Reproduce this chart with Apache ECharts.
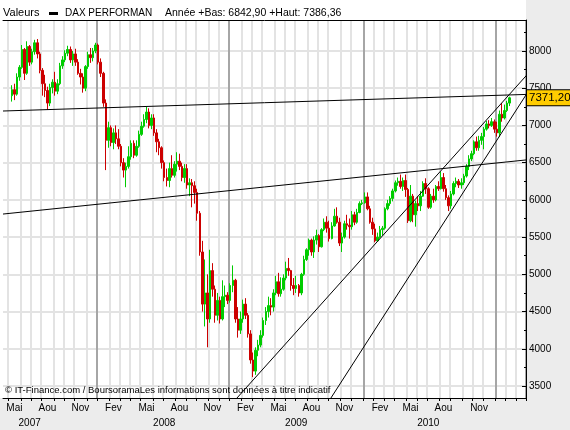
<!DOCTYPE html>
<html>
<head>
<meta charset="utf-8">
<title>DAX PERFORMAN</title>
<script src="https://cdn.jsdelivr.net/npm/echarts@6/dist/echarts.min.js"></script>
<style>
    html, body { margin: 0; padding: 0; background: #ececec; }
    #chart { width: 570px; height: 430px; }
</style>
</head>
<body>
<div id="chart"></div>
<script type="text/javascript">
// axe : une categorie par semaine (lundi), premiere bougie a la semaine 3
var weekCount = 206;
var firstCandle = 3;
var monthNames = ['Jan','Fev','Mar','Avr','Mai','Jun','Jul','Aou','Sep','Oct','Nov','Dec'];
var labelMonths = [1, 4, 7, 10];
var lastLabelYear = 2010;

// bougies hebdo, mai 2007 -> fevrier 2011
var opens = [
    7400,7480,7420,7650,7780,8020,7700,8060,7850,7990,8110,7960,7740,7560,7470,7300,7510,7580,7460,7560,7800,7880,7970,8020,7880,7960,7850,7700,7650,7500,7790,7950,7910,8000,8080,
    7850,7700,7300,6800,6970,6770,6900,6820,6720,6500,6400,6450,6580,6760,6600,6720,6880,6990,7080,7180,7000,7100,6900,6780,6700,6500,6300,6260,6420,6330,6480,6520,6450,6300,6420,6200,6230,6190,6100,5820,5300,4600,4750,4400,5050,4800,4450,4650,4400,4700,4720,4650,
    4850,4920,4400,4250,4400,4600,4450,4200,3850,3700,3980,4050,4180,4380,4500,4580,4560,4750,4900,4740,4800,4950,5080,5050,4850,4810,4850,4750,5000,5200,5330,5460,5300,5460,5520,5370,5600,5700,5620,5480,5650,5780,5700,5420,5500,5680,5660,5640,5800,5700,5830,5950,
    5960,6040,5880,5700,5610,5450,5500,5600,5620,5880,5950,6020,6120,6230,6250,6180,6260,6140,5720,6050,5800,5950,5920,6050,6220,6150,5900,6050,6000,6180,6150,6300,6150,6030,5920,6080,6220,6250,6200,6230,6320,6450,6550,6620,6780,6700,6800,6850,6950,7020,7000,7050,
    6950,6900,7150,7100,7200,7300
];
var closes = [
    7480,7420,7650,7780,8020,7700,8060,7850,7990,8110,7960,7740,7560,7470,7300,7510,7580,7460,7560,7800,7880,7970,8020,7880,7960,7850,7700,7650,7500,7790,7950,7910,8000,8080,7850,
    7700,7300,6800,6970,6770,6900,6820,6720,6500,6400,6450,6580,6760,6600,6720,6880,6990,7080,7180,7000,7100,6900,6780,6700,6500,6300,6260,6420,6330,6480,6520,6450,6300,6420,6200,6230,6190,6100,5820,5300,4600,4750,4400,5050,4800,4450,4650,4400,4700,4720,4650,4850,
    4920,4400,4250,4400,4600,4450,4200,3850,3700,3980,4050,4180,4380,4500,4580,4560,4750,4900,4740,4800,4950,5080,5050,4850,4810,4850,4750,5000,5200,5330,5460,5300,5460,5520,5370,5600,5700,5620,5480,5650,5780,5700,5420,5500,5680,5660,5640,5800,5700,5830,5950,5960,
    6040,5880,5700,5610,5450,5500,5600,5620,5880,5950,6020,6120,6230,6250,6180,6260,6140,5720,6050,5800,5950,5920,6050,6220,6150,5900,6050,6000,6180,6150,6300,6150,6030,5920,6080,6220,6250,6200,6230,6320,6450,6550,6620,6780,6700,6800,6850,6950,7020,7000,7050,6950,
    6900,7150,7100,7200,7300,7371.2
];
var lows = [
    7320,7340,7400,7600,7760,7610,7680,7800,7820,7950,7900,7700,7400,7380,7210,7260,7430,7400,7420,7540,7760,7850,7930,7840,7800,7800,7680,7550,7440,7460,7760,7840,7860,7970,7820,
    7650,7250,6400,6700,6720,6680,6750,6680,6450,6300,6170,6420,6540,6560,6580,6700,6860,6970,7030,6960,6950,6860,6640,6600,6420,6250,6180,6170,6300,6300,6380,6400,6250,6230,6150,6050,5900,5950,5720,5250,4500,4300,4020,4350,4700,4350,4380,4340,4380,4560,4600,4620,
    4760,4350,4150,4200,4350,4400,4150,3800,3620,3650,3900,4020,4150,4320,4420,4450,4500,4720,4700,4700,4780,4920,4980,4780,4720,4750,4700,4720,4980,5180,5250,5250,5220,5400,5300,5360,5580,5560,5440,5470,5640,5680,5380,5300,5480,5600,5480,5600,5660,5680,5820,5930,
    5950,5860,5680,5530,5430,5440,5480,5520,5600,5860,5920,5980,6100,6190,6150,6120,6040,5690,5700,5700,5640,5850,5850,6040,6080,5880,5880,5960,5980,6120,6140,6110,6000,5850,5880,6060,6170,6160,6150,6200,6300,6400,6520,6600,6660,6660,6740,6680,6930,6960,6980,6900,
    6850,6842.9,7050,7080,7180,7260
];
var highs = [
    7540,7560,7700,7810,8080,8040,8130,8080,8030,8150,8160,7990,7770,7680,7520,7560,7620,7720,7620,7840,7930,8010,8070,8060,8000,8030,7890,7760,7700,7810,7990,8040,8040,8110,8100,
    7900,7720,7350,7050,7000,6960,7000,6950,6750,6560,6500,6720,6800,6800,6800,6930,7050,7150,7250,7230,7150,7150,6950,6820,6720,6530,6420,6500,6600,6520,6640,6620,6500,6480,6480,6290,6280,6250,6150,5850,5450,5200,5000,5330,5150,4850,4750,4700,4920,4850,4760,4880,
    5120,4940,4560,4500,4660,4680,4480,4250,3950,4020,4120,4250,4420,4560,4700,4680,4800,4980,5020,4960,5000,5170,5220,5060,4950,4980,4870,5020,5250,5350,5480,5480,5510,5600,5540,5620,5750,5780,5720,5700,5880,5900,5760,5560,5720,5800,5750,5850,5840,5880,5980,6000,
    6100,6100,5920,5760,5680,5560,5650,5650,5900,6000,6050,6150,6260,6300,6340,6300,6340,6160,6200,6080,5990,6050,6120,6250,6290,6170,6080,6150,6200,6250,6380,6360,6200,6060,6120,6250,6300,6280,6290,6350,6480,6600,6660,6800,6850,6860,6900,6980,7060,7070,7100,7080,
    7050,7200,7300,7280,7330,7386.36
];

var lastPrice = 7371.2;
var lastPriceText = '7371,20';
var headerParts = ['Valeurs', 'DAX PERFORMAN', 'Année +Bas: 6842,90 +Haut: 7386,36'];
var footerText = '© IT-Finance.com / BoursoramaLes informations sont données à titre indicatif';

// droites tracees a la main : [semaine, valeur], un peu au-dela du cadre (coupees au bord)
var trendTop = [[-1, 7193], [206, 7417]];
var trendFlat = [[-1, 5808], [206, 6538]];
var trendLow = [[90, 3276], [206, 7684]];
var trendSteep = [[128, 3304], [206, 7436]];

var fontFamily = '"Liberation Sans", Arial, sans-serif';

var weeks = [];
for (var k = 0; k < weekCount; k++) {
    weeks.push(new Date(Date.UTC(2007, 3, 16 + k * 7)).toISOString().slice(0, 10));
}

var candles = weeks.map(function (w, i) {
    var n = i - firstCandle;
    if (n < 0 || n >= closes.length) {
        return ['-', '-', '-', '-'];
    }
    return [opens[n], closes[n], lows[n], highs[n]];
});

function dayOf(value, shift) {
    return new Date(Date.parse(value + 'T00:00:00Z') + shift * 864e5);
}
// la semaine dont le bord est le plus proche du 1er du mois
function monthEdge(value, skipJanuary) {
    for (var s = -3; s <= 3; s++) {
        var d = dayOf(value, s);
        if (d.getUTCDate() === 1) {
            return !(skipJanuary && d.getUTCMonth() === 0);
        }
    }
    return false;
}
function yearEdge(value) {
    for (var s = -3; s <= 3; s++) {
        var d = dayOf(value, s);
        if (d.getUTCDate() === 1 && d.getUTCMonth() === 0) return true;
    }
    return false;
}
// la semaine qui contient un jour donne
function holds(value, month, day) {
    for (var s = 0; s < 7; s++) {
        var d = dayOf(value, s);
        if (d.getUTCMonth() === month && d.getUTCDate() === day) return true;
    }
    return false;
}

function trend(points) {
    return {
        type: 'line',
        data: points,
        symbol: 'none',
        silent: true,
        clip: true,
        lineStyle: { color: '#000', width: 1 }
    };
}

var chart = echarts.init(document.getElementById('chart'));
chart.setOption({
    animation: false,
    backgroundColor: '#ececec',
    textStyle: { fontFamily: fontFamily },
    grid: { left: 3, right: 44, top: 20, bottom: 32 },
    graphic: [
        { type: 'rect', z: -100, shape: { x: 0, y: 0, width: 526, height: 398 }, style: { fill: '#fff' } },
        // bande blanche a gauche du cadre
        { type: 'rect', z: 100, shape: { x: 0, y: 21, width: 3, height: 376 }, style: { fill: '#fff' } },
        { type: 'text', z: 50, x: 3, y: 13, style: { text: headerParts[0], fill: '#000', fontSize: 11, fontFamily: fontFamily, verticalAlign: 'middle' } },
        { type: 'rect', z: 50, shape: { x: 49, y: 12, width: 9, height: 3 }, style: { fill: '#000' } },
        { type: 'text', z: 50, x: 65, y: 13, style: { text: headerParts[1], fill: '#000', fontSize: 10, fontFamily: fontFamily, verticalAlign: 'middle' } },
        { type: 'text', z: 50, x: 165, y: 13, style: { text: headerParts[2], fill: '#000', fontSize: 10.5, fontFamily: fontFamily, verticalAlign: 'middle' } },
        { type: 'text', z: 50, x: 5, y: 390, style: { text: footerText, fill: '#000', fontSize: 9.5, fontFamily: fontFamily, verticalAlign: 'middle' } }
    ],
    xAxis: [
        {
            type: 'category',
            data: weeks,
            position: 'bottom',
            axisLine: { onZero: false, lineStyle: { color: '#000' } },
            axisTick: {
                show: true, length: 3, lineStyle: { color: '#000' },
                interval: function (i, v) { return monthEdge(v, false); }
            },
            axisLabel: {
                color: '#000', fontSize: 10, margin: 5,
                interval: function (i, v) {
                    if (+v.slice(0, 4) > lastLabelYear) return false;
                    return labelMonths.some(function (m) { return holds(v, m, 15); });
                },
                formatter: function (v) {
                    return monthNames[dayOf(v, 3).getUTCMonth()];
                }
            },
            splitLine: {
                show: true,
                interval: function (i, v) { return monthEdge(v, true); },
                lineStyle: { color: '#e3e3e3', width: 2 }
            }
        },
        {
            type: 'category',
            data: weeks,
            position: 'bottom',
            axisLine: { show: false, onZero: false },
            axisTick: { show: false },
            axisLabel: {
                color: '#000', fontSize: 10, margin: 20,
                interval: function (i, v) { return holds(v, 6, 1); },
                formatter: function (v) { return v.slice(0, 4); }
            },
            splitLine: {
                show: true,
                interval: function (i, v) { return yearEdge(v); },
                lineStyle: { color: '#a6a6a6', width: 2 }
            }
        },
        {
            type: 'category',
            data: weeks,
            position: 'top',
            axisLine: { onZero: false, lineStyle: { color: '#000' } },
            axisTick: { show: false },
            axisLabel: { show: false }
        }
    ],
    yAxis: {
        type: 'value',
        position: 'right',
        min: 3339,
        max: 8416,
        splitNumber: 10,
        axisLine: { show: true, onZero: false, lineStyle: { color: '#000' } },
        axisTick: { show: true, inside: true, length: 4, lineStyle: { color: '#000' } },
        minorTick: { show: true, splitNumber: 2, length: 2, lineStyle: { color: '#000' } },
        axisLabel: {
            color: '#000', fontSize: 10, margin: 3, showMinLabel: false, showMaxLabel: false,
            formatter: function (v) { return String(v); }
        },
        splitLine: { show: true, showMinLine: false, showMaxLine: false, lineStyle: { color: '#e3e3e3', width: 2 } }
    },
    series: [
        {
            type: 'candlestick',
            data: candles,
            barWidth: 2,
            itemStyle: {
                color: '#00cc00', color0: '#cc0000',
                borderColor: '#00cc00', borderColor0: '#cc0000', borderWidth: 1
            },
            markLine: {
                silent: true,
                symbol: 'none',
                lineStyle: { width: 0, color: 'rgba(0,0,0,0)' },
                label: {
                    show: true, position: 'end', distance: 1,
                    formatter: lastPriceText,
                    color: '#000', fontSize: 11.5,
                    backgroundColor: '#ffcc00', borderColor: '#000', borderWidth: 1,
                    padding: [2, 2, 1, 2]
                },
                data: [{ yAxis: lastPrice }]
            }
        },
        trend(trendTop),
        trend(trendFlat),
        trend(trendLow),
        trend(trendSteep)
    ]
});
</script>
</body>
</html>
